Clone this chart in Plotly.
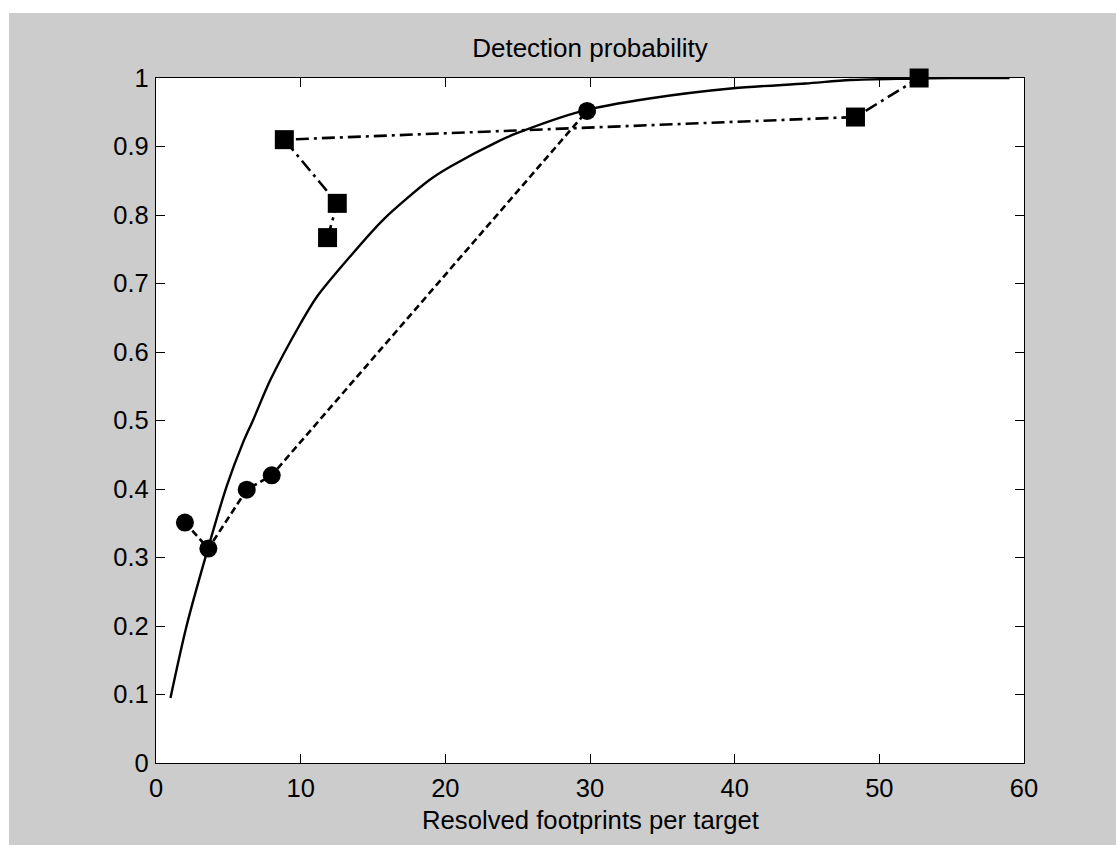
import plotly.graph_objects as go

# Smooth model curve (solid)
curve_x = [1.0, 2.1, 3.7, 4.9, 6.0, 6.7, 7.9, 10.0, 11.1, 13.4, 15.7, 18.9, 20.3, 23.8,
           24.9, 29.5, 34.1, 39.9, 44.9, 48.0, 52.0, 55.0, 59.0]
curve_y = [0.095, 0.199, 0.321, 0.405, 0.467, 0.50, 0.559, 0.642, 0.68, 0.739, 0.793, 0.851,
           0.870, 0.909, 0.919, 0.952, 0.970, 0.985, 0.992, 0.997, 0.999, 1.0, 1.0]

# Dashed series with circle markers
circ_x = [2.0, 3.62, 6.27, 8.0, 29.8]
circ_y = [0.351, 0.313, 0.399, 0.420, 0.952]

# Dash-dot series with square markers
sq_x = [11.86, 12.53, 8.87, 48.35, 52.75]
sq_y = [0.767, 0.817, 0.910, 0.943, 1.0]

x_ticks = [0, 10, 20, 30, 40, 50, 60]
y_ticks = [0, 0.1, 0.2, 0.3, 0.4, 0.5, 0.6, 0.7, 0.8, 0.9, 1]
y_tick_text = ["0", "0.1", "0.2", "0.3", "0.4", "0.5", "0.6", "0.7", "0.8", "0.9", "1"]

FONT = "Liberation Sans, Arial, sans-serif"

fig = go.Figure()
fig.add_trace(go.Scatter(x=curve_x, y=curve_y, mode="lines",
                         line=dict(color="black", width=2.4, shape="spline", smoothing=0.8),
                         cliponaxis=False, showlegend=False))
fig.add_trace(go.Scatter(x=circ_x, y=circ_y, mode="lines+markers",
                         line=dict(color="black", width=2.6, dash="7px,4px"),
                         marker=dict(symbol="circle", size=18, color="black", line=dict(width=0)),
                         cliponaxis=False, showlegend=False))
fig.add_trace(go.Scatter(x=sq_x, y=sq_y, mode="lines+markers",
                         line=dict(color="black", width=2.6, dash="13px,5px,3px,5px"),
                         marker=dict(symbol="square", size=19, color="black", line=dict(width=0)),
                         cliponaxis=False, showlegend=False))

L, R, T, B = 156, 92, 78, 82
W, H = 1116, 845
pw, ph = W - L - R, H - T - B

def px_to_paper_x(px):
    return (px - L) / pw

def px_to_paper_y(py):
    return (H - B - py) / ph

fig.update_layout(
    width=W, height=H,
    margin=dict(l=L, r=R, t=T, b=B),
    paper_bgcolor="white",
    plot_bgcolor="white",
    font=dict(family=FONT, color="black", size=25),
    shapes=[
        dict(type="rect", xref="paper", yref="paper", layer="below",
             x0=px_to_paper_x(9), x1=px_to_paper_x(1120),
             y0=px_to_paper_y(850), y1=px_to_paper_y(13),
             fillcolor="#cccccc", line=dict(width=0)),
        dict(type="rect", xref="paper", yref="paper", layer="below",
             x0=0, x1=1, y0=0, y1=1, fillcolor="white", line=dict(width=0)),
    ],
    title=dict(text="Detection probability", xref="paper", x=0.5, xanchor="center",
               yref="container", y=1 - 48 / H, yanchor="middle",
               font=dict(family=FONT, size=26, color="black")),
    annotations=[
        dict(text="Resolved footprints per target", xref="paper", yref="paper",
             x=0.5, y=px_to_paper_y(820), xanchor="center", yanchor="middle",
             showarrow=False, font=dict(family=FONT, size=25.7, color="black")),
    ],
    xaxis=dict(range=[0, 60], tickvals=x_ticks, ticks="inside", ticklen=9, tickwidth=1.2,
               tickcolor="black", showline=True, linecolor="black", linewidth=1.4,
               mirror="ticks", showgrid=False, zeroline=False,
               tickfont=dict(family=FONT, size=25.5, color="black"),
               ticklabelstandoff=2),
    yaxis=dict(range=[0, 1], tickvals=y_ticks, ticktext=y_tick_text, ticks="inside",
               ticklen=9, tickwidth=1.2, tickcolor="black", showline=True, linecolor="black",
               linewidth=1.4, mirror="ticks", showgrid=False, zeroline=False,
               tickfont=dict(family=FONT, size=25.5, color="black"),
               ticklabelstandoff=1),
)

fig.write_html("out.html")
